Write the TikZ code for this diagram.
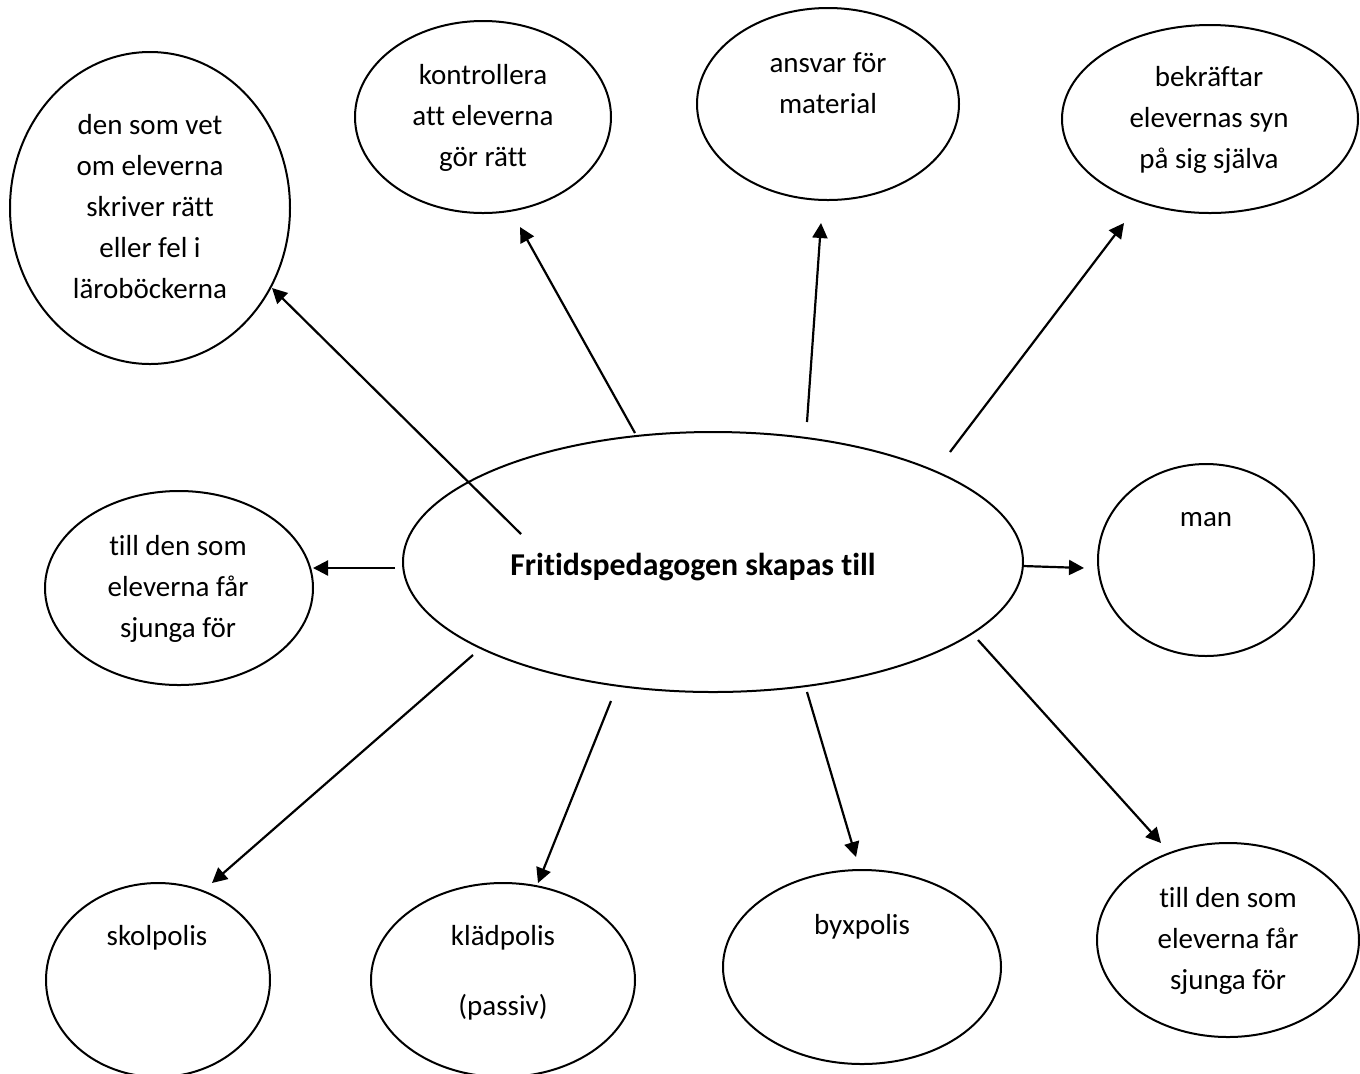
\documentclass[tikz,border=0pt]{standalone}
\usepackage{fontspec}
\setmainfont{Carlito}[Ligatures=NoCommon]
\usetikzlibrary{shapes.geometric,arrows.meta}
\begin{document}
\begin{tikzpicture}[x=0.5pt,y=-0.5pt,
  bub/.style={draw, ellipse, line width=1pt, inner sep=0pt, fill=white},
  txt/.style={align=center, inner sep=0pt, font=\fontsize{14.5}{20.5}\selectfont},
  arr/.style={-{Triangle[length=7.5pt,width=7.5pt]}, line width=1.1pt}]
\useasboundingbox[fill=white] (0,0) rectangle (1360,1073);
% ellipses
\node[bub, minimum width=140pt, minimum height=156pt] (Eden) at (150,208) {};
\node[bub, minimum width=128pt, minimum height=96pt] (Ekon) at (483,117) {};
\node[bub, minimum width=131pt, minimum height=96pt] (Eans) at (828,104) {};
\node[bub, minimum width=148pt, minimum height=94pt] (Ebek) at (1210,119) {};
\node[bub, minimum width=310pt, minimum height=130pt] (Ecen) at (713,562) {};
\node[bub, minimum width=134pt, minimum height=97pt] (Elt) at (179,588) {};
\node[bub, minimum width=108pt, minimum height=96pt] (Eman) at (1206,560) {};
\node[bub, minimum width=112pt, minimum height=97pt] (Esko) at (158,980) {};
\node[bub, minimum width=132pt, minimum height=97pt] (Ekla) at (503,980) {};
\node[bub, minimum width=139pt, minimum height=97pt] (Ebyx) at (862,967) {};
\node[bub, minimum width=131pt, minimum height=97pt] (Ert) at (1228,940) {};
% texts
\node[txt] (Tden) at (150,207) {den som vet\\om eleverna\\skriver rätt\\eller fel i\\läroböckerna};
\node[txt] (Tkon) at (483,118) {kontrollera\\att eleverna\\gör rätt};
\node[txt] (Tans) at (828,83) {ansvar för\\material};
\node[txt] (Tbek) at (1209,120) {bekräftar\\elevernas syn\\på sig själva};
\node[txt, font=\bfseries\fontsize{15.9}{19}\selectfont] (Tcen) at (693,567) {Fritidspedagogen skapas till};
\node[txt] (Tlt) at (178,589) {till den som\\eleverna får\\sjunga för};
\node[txt] (Tman) at (1206,520) {man};
\node[txt] (Tsko) at (157,938) {skolpolis};
\node[txt] (Tkla) at (503,973) {klädpolis\\[14.5pt](passiv)};
\node[txt] (Tbyx) at (862,927) {byxpolis};
\node[txt] (Trt) at (1228,941) {till den som\\eleverna får\\sjunga för};
% arrow ends
\coordinate (s1) at (521,534); \coordinate (h1) at (272,288);
\coordinate (s2) at (635,433); \coordinate (h2) at (520,227);
\coordinate (s3) at (807,422); \coordinate (h3) at (821,223);
\coordinate (s4) at (950,452); \coordinate (h4) at (1124,223);
\coordinate (s5) at (395,568); \coordinate (h5) at (313,568);
\coordinate (s6) at (1023,566); \coordinate (h6) at (1084,568);
\coordinate (s7) at (473,655); \coordinate (h7) at (212,883);
\coordinate (s8) at (611,701); \coordinate (h8) at (538,883);
\coordinate (s9) at (807,692); \coordinate (h9) at (856,857);
\coordinate (s10) at (978,640); \coordinate (h10) at (1161,843);
\foreach \i in {1,...,10} {\draw[arr] (s\i) -- (h\i);}
\end{tikzpicture}
\end{document}
